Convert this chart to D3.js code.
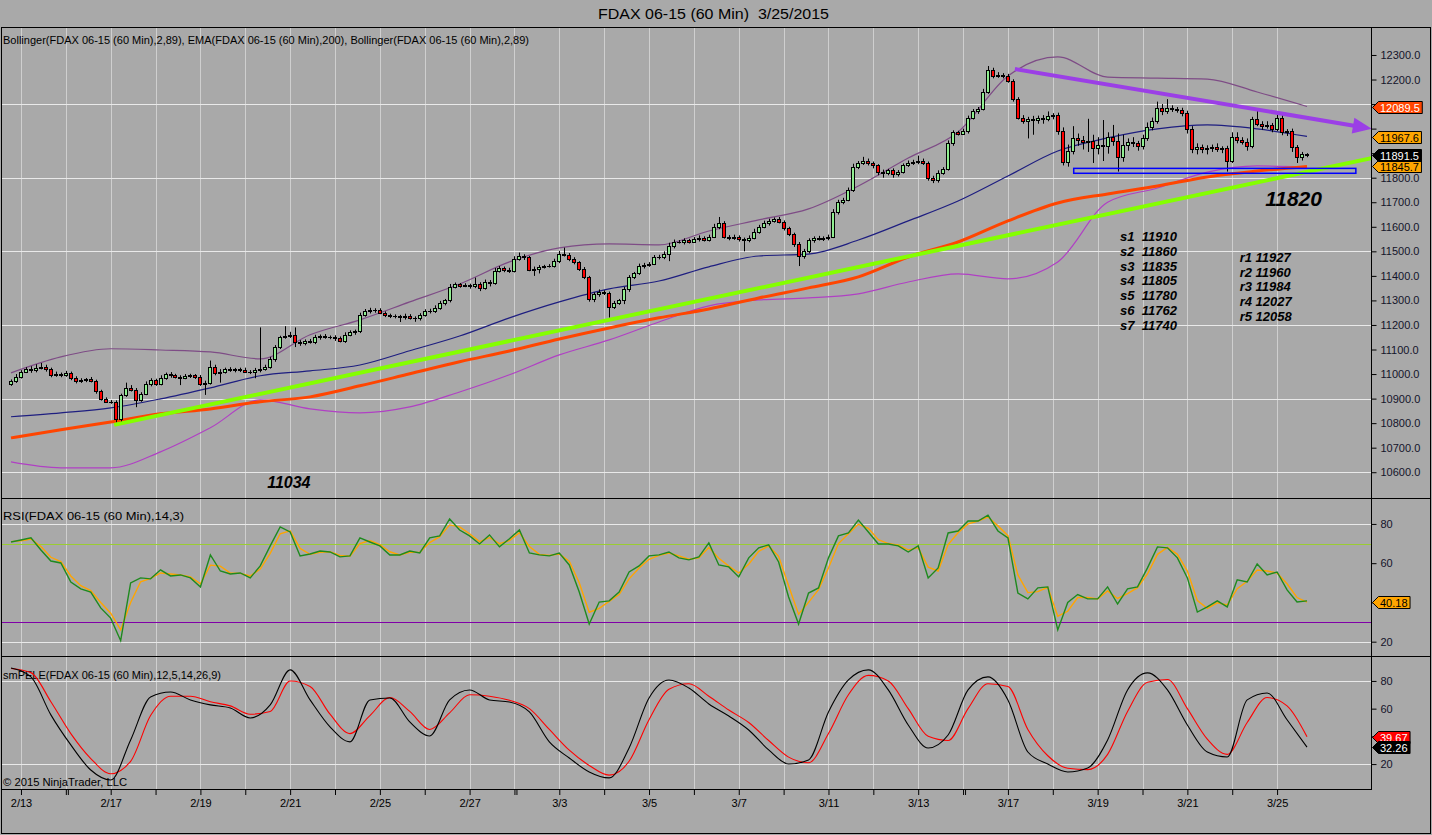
<!DOCTYPE html>
<html><head><meta charset="utf-8">
<script src="https://cdn.jsdelivr.net/npm/d3@7/dist/d3.min.js"></script>
<style>
html,body{margin:0;padding:0;background:#A9A9A9;overflow:hidden}
svg{display:block}
text{font-family:"Liberation Sans",Arial,Helvetica,sans-serif}
</style></head><body>
<svg id="chart" width="1432" height="835"></svg>
<script>
// ---------------- DATA ----------------
const title = "FDAX 06-15 (60 Min)  3/25/2015";
const legendMain = "Bollinger(FDAX 06-15 (60 Min),2,89), EMA(FDAX 06-15 (60 Min),200), Bollinger(FDAX 06-15 (60 Min),2,89)";
const legendRsi = "RSI(FDAX 06-15 (60 Min),14,3)";
const legendPel = "smPELE(FDAX 06-15 (60 Min),12,5,14,26,9)";
const copyright = "\u00A9 2015 NinjaTrader, LLC";

const firstOpen = 10960;
const closes = [
10970,10990,11010,11020,11015,11025,11030,11020,10995,11000,
10995,11005,10985,10970,10975,10978,10972,10930,10900,10888,
10885,10815,10915,10945,10935,10895,10920,10960,10975,10960,
10985,11000,10995,10990,10985,10992,10995,10990,10960,10965,
11030,11005,11010,11020,11015,11020,11018,11010,11008,11015,
11020,11030,11060,11110,11150,11155,11160,11130,11125,11135,
11130,11150,11155,11150,11152,11145,11135,11160,11170,11175,
11240,11255,11262,11260,11250,11240,11238,11235,11232,11238,
11230,11228,11240,11258,11255,11270,11290,11300,11355,11365,
11360,11362,11358,11368,11350,11375,11372,11420,11432,11425,
11420,11470,11480,11475,11425,11430,11438,11440,11442,11460,
11490,11485,11470,11455,11430,11395,11305,11325,11335,11330,
11275,11290,11300,11345,11395,11410,11440,11445,11450,11475,
11478,11490,11520,11540,11538,11545,11540,11550,11555,11548,
11560,11600,11615,11560,11555,11560,11550,11545,11555,11580,
11600,11615,11625,11632,11620,11595,11570,11530,11480,11500,
11545,11555,11550,11555,11560,11660,11700,11710,11750,11845,
11860,11870,11860,11850,11825,11820,11830,11815,11825,11850,
11860,11865,11870,11860,11800,11790,11820,11835,11940,11985,
11980,11990,12045,12070,12080,12150,12240,12215,12220,12215,
12195,12120,12045,12030,12040,12035,12045,12040,12050,12055,
11990,11865,11910,11960,11955,11945,11950,11920,11935,11928,
11965,11950,11885,11935,11945,11940,11930,11960,12005,12030,
12085,12070,12085,12080,12075,12065,12000,11915,11925,11915,
11920,11925,11915,11920,11870,11965,11955,11945,11930,12040,
12020,12010,12015,12000,12045,11985,11990,11925,11885,11895,
11891.5];
const upperWick = [
8,10,6,8,12,15,15,8,6,10, 6,8,5,6,8,6,10,5,6,5, 6,8,5,20,10,8,6,10,8,6,
10,6,8,6,5,8,6,5,6,8, 25,8,10,6,8,5,6,8,6,10, 170,8,10,8,6,40,12,30,8,6,
8,10,6,8,5,6,8,10,8,6, 10,10,8,6,8,5,6,5,6,8, 6,5,8,6,8,10,8,6,12,8,
6,8,6,25,6,10,8,12,8,6, 8,10,15,8,6,8,6,5,6,10, 12,25,8,6,5,6,5,8,10,6,
6,8,6,10,8,6,10,8,6,10, 8,10,15,8,6,8,6,8,10,6, 8,12,25,8,6,8,5,6,10,12,
8,10,8,6,8,6,5,6,8,10, 8,6,8,6,8,12,10,8,10,12, 8,15,8,6,5,8,6,8,6,8,
10,8,20,8,6,8,10,8,12,8, 6,10,8,10,8,12,15,8,10,6, 8,6,8,10,8,12,8,10,20,8,
10,15,25,50,20,15,90,25,30,100, 20,50,30,40,15,20,10,15,20,15, 25,15,35,10,8,10,8,10,15,10,
12,10,15,8,10,20,20,10,15,8, 35,10,15,8,12,15,8,10,8,10, 5];
const lowerWick = [
8,6,8,6,10,8,6,10,8,6, 8,6,10,8,6,8,6,10,8,6, 6,12,10,8,6,30,8,6,10,8,
6,8,10,8,30,6,8,10,8,45, 8,10,40,8,6,8,10,6,8,25, 8,6,8,10,8,6,8,20,10,8,
6,8,10,6,8,10,6,8,6,10, 8,6,8,10,6,8,10,8,20,10, 8,15,10,6,8,6,8,10,8,6,
8,6,10,8,12,6,15,8,6,10, 8,6,8,10,6,25,20,8,6,8, 8,6,10,8,10,8,10,12,10,8,
45,10,8,15,10,8,6,10,8,6, 8,10,30,8,6,10,8,6,10,8, 8,6,10,8,10,8,10,45,8,6,
8,6,10,8,6,10,8,12,40,10, 8,10,6,8,10,6,10,8,6,8, 10,8,10,12,15,20,10,15,10,8,
6,8,10,8,12,12,10,8,6,10, 8,6,10,8,10,6,8,10,8,10, 8,10,8,10,70,60,15,20,10,12,
15,15,20,15,25,30,40,60,25,60, 30,20,60,20,25,15,20,15,10,12, 10,15,10,12,10,15,20,15,20,15,
20,15,10,15,45,10,15,10,20,10, 10,15,10,15,10,12,15,20,25,15, 8];

// indicator readings every 10 bars
const bandStep = 10;
const bbUpper  = [11005,11070,11103,11098,11090,11062,11160,11221,11294,11367,11457,11514,11530,11526,11583,11628,11673,11766,11880,11986,12214,12292,12210,12206,12202,12149,12090];
const bbMiddle = [10826,10842,10862,10899,10944,10993,11013,11037,11095,11155,11229,11294,11347,11379,11437,11481,11489,11546,11624,11705,11807,11909,11962,11999,12015,11999,11968];
const bbLower  = [10642,10618,10618,10683,10781,10895,10858,10842,10866,10927,10997,11078,11139,11212,11278,11302,11310,11327,11375,11408,11388,11457,11700,11758,11823,11848,11844];
const ema200   = [10740,10773,10805,10838,10858,10887,10907,10952,11001,11050,11094,11143,11188,11229,11265,11310,11351,11396,11477,11538,11624,11697,11734,11766,11803,11827,11846];

// RSI readings every 2 bars
const rsiStep = 2;
const rsi = [70.8,71.8,72.9,66.7,61.1,60.1,50.4,46.9,45.3,37.2,32,20.5,49.9,52.5,52,56.6,53.5,54,52.5,47.9,
64.2,56,54.5,55,52.5,58.6,68.8,78.5,75.9,63.7,64.7,66.2,65.7,63.2,63.7,72.9,70.8,68.8,64.2,64.2,
66.2,65.2,72.9,73.9,82.5,76.9,73.9,69.8,74.4,68.3,72.4,76.9,65.2,64.2,63.7,65.2,59.1,45.3,29,40.2,
40.8,45.3,55.5,58.6,63.7,64.2,65.7,62.7,61.7,63.2,70.3,59.1,58.1,53,62.7,67.8,69.3,60.6,42.8,29,
44.8,47.4,62.7,73.9,75.4,82,75.9,69.8,69.8,68.8,65.7,68.8,52.5,57.6,75.4,76.4,81.5,81.5,84.5,76.4,
72.9,44.8,41.8,47.4,47.9,26,40,44,41.8,41.8,47.9,39.2,46.9,47.9,57.6,68.3,67.8,62.7,52.5,35.1,
37.7,40.8,37.7,51.5,50.4,59.6,54,55.5,46.4,40.2,40.8];
const rsiSignal = [71,71.4,72.3,68.5,63,60.8,53.5,48.5,46,40,34.5,26,40,50.5,52.2,55,54.5,54,53,49.5,
59,58.5,55,54.8,53.5,57,65,75,76.5,67.5,64.5,65.5,65.8,64,63.5,70,71.5,69.5,65.8,64.2,
65.5,65.5,70.5,73.5,79.5,78.5,75,71,73,70,71.5,75.5,68.5,64.5,64,64.7,61,50,35,37,
40.5,44,52,57.5,62,64,65.2,63.7,62,62.7,68,62.5,58.5,55,59.5,66,68.8,63.5,48.5,34,
40,46.5,57.5,70,75,79.8,77.8,72,70,69.2,66.8,67.8,58,56,69.5,75.5,80,81.5,83.5,79,
74,54,45,45.5,47.7,33,35.5,42.5,42.5,41.8,45.9,42,44.5,47.5,54.5,64.5,68,64.5,56,41,
37,39.8,38.7,47,50.8,56.5,56,55,49.5,42.5,40.18];
const rsiLevels = [70, 30];

// smPELE readings every 4 bars
const pelStep = 4;
const pelFast = [89.4,82.9,55.5,33.8,15.7,8.5,37.4,68.4,72,66.3,62.7,60.5,53.3,62.7,88,66.3,46.8,36,66.3,67.7,
50.4,40.3,66.3,73.5,66.3,64.8,57.6,36,24.4,14.3,10,31.6,67.7,80.7,74.9,63.4,54.7,44.6,30.2,20,
23,57.6,80.7,88,73.5,48.2,31.6,41,73.5,82.9,66.3,28.7,20,14.3,17.2,37.4,73.5,85.8,73.5,48.2,
28.7,25.1,66.3,71.3,52,32.26];
const pelSlow = [89,86,65,42,24,13,22,55,69,69,65,62,56,58,80,76,56,42,55,68,
58,45,57,70,69,66,60,45,30,19,12,22,52,74,78,69,59,50,37,25,
21,42,70,84,80,60,40,37,60,78,76,45,26,17,16,27,58,79,81,60,
38,27,50,68,62,39.67];

// time axis
const tickBars = [2,11,20,29,38,47,56,65,74,83,92,101,110,119,128,137,146,155,164,173,182,191,200,209,218,227,236,245,254];
const tickLabels = ["2/13","","2/17","","2/19","","2/21","","2/25","","2/27","","3/3","","3/5","","3/7","","3/11","","3/13","","3/17","","3/19","","3/21","","3/25"];
const sessionBreaks = [11,101,191];

// value axes
const priceTicks = [10600,10700,10800,10900,11000,11100,11200,11300,11400,11500,11600,11700,11800,11900,12000,12100,12200,12300];
const priceGrid = [10600,10900,11200,11500,11800,12100];
const oscTicks = [20,40,60,80];
const oscGrid = [20,80];

// last-value markers
const priceMarkers = [12089.5, 11967.6, 11845.7, 11891.5];
const rsiMarkers = [40.18];
const pelMarkers = [39.67, 32.26];

// drawings (bar index, price)
const trendUp = [[20.7,10793],[273,11880]];
const trendDown = [[201.4,12243],[273,11999]];
const supportZone = [[213.2,11818],[269.8,11838]];

// annotations
const noteLow = {text:"11034", at:[51.4,10536]};
const noteZone = {text:"11820", at:[251.6,11685]};
const supportNames = ["s1","s2","s3","s4","s5","s6","s7"];
const supportValues = [11910,11860,11835,11805,11780,11762,11740];
const resistNames = ["r1","r2","r3","r4","r5"];
const resistValues = [11927,11960,11984,12027,12058];
const supportAt = [222.5, 11542];
const resistAt = [246.5, 11457];

// ---------------- DRAW ----------------
const svg = d3.select("#chart");
const FONT = '"Liberation Sans",Arial,Helvetica,sans-serif';
const PL=2, PR=1371, PT=27, MB=498, RB=656, SB=789;
const n = closes.length;
const x  = d3.scaleLinear().domain([0,n-1]).range([11,1307]);
const yP = d3.scaleLinear().domain([10495,12414]).range([MB,PT]);
const yR = d3.scaleLinear().domain([12.7,92.7]).range([RB,MB+1]);
const yS = d3.scaleLinear().domain([2,98]).range([SB,RB]);

svg.append("rect").attr("width",1432).attr("height",835).attr("fill","#A9A9A9");

const defs = svg.append("defs");
function clip(id,y0,y1){defs.append("clipPath").attr("id",id).append("rect")
  .attr("x",PL).attr("y",y0).attr("width",PR-PL).attr("height",y1-y0);}
clip("cm",PT,MB); clip("cr",MB,RB); clip("cs",RB,SB);

// grid
const grid = svg.append("g");
grid.selectAll("line.v").data(tickBars).join("line").attr("class","v")
  .attr("x1",d=>Math.round(x(d))+0.5).attr("x2",d=>Math.round(x(d))+0.5)
  .attr("y1",PT).attr("y2",SB).attr("stroke","#CFCFCF");
function hgrid(vals,scale){
  grid.append("g").selectAll("line").data(vals).join("line")
   .attr("x1",PL).attr("x2",PR)
   .attr("y1",d=>Math.round(scale(d))+0.5).attr("y2",d=>Math.round(scale(d))+0.5)
   .attr("stroke","#E9E9E9");
}
hgrid(priceGrid,yP); hgrid(oscGrid,yR); hgrid(oscGrid,yS);

// legends
function label(txt,xx,yy,size,len){
  const t = svg.append("text").attr("x",xx).attr("y",yy).attr("font-size",size)
    .attr("fill","#000").style("white-space","pre").text(txt);
  if(len) t.attr("textLength",len).attr("lengthAdjust","spacingAndGlyphs");
  return t;
}
label(title,598,18.5,15,231);
label(legendMain,3,44,11,526);
label(legendRsi,3,520,11,181);
label(legendPel,3,679,11,218);
label(copyright,3,786,11,124);

// main panel lines
const main = svg.append("g").attr("clip-path","url(#cm)");
function series(arr,step,ys,curve){
  return d3.line().x((d,i)=>x(i*step)).y(d=>ys(d)).curve(curve||d3.curveLinear)(arr);
}
main.append("path").attr("d",series(bbUpper,bandStep,yP,d3.curveMonotoneX)).attr("fill","none").attr("stroke","#7E4C86").attr("stroke-width",1.2);
main.append("path").attr("d",series(bbMiddle,bandStep,yP,d3.curveMonotoneX)).attr("fill","none").attr("stroke","#1E1E80").attr("stroke-width",1.2);
main.append("path").attr("d",series(bbLower,bandStep,yP,d3.curveMonotoneX)).attr("fill","none").attr("stroke","#B040C4").attr("stroke-width",1.2);
main.append("path").attr("d",series(ema200,bandStep,yP,d3.curveMonotoneX)).attr("fill","none").attr("stroke","#FF4500").attr("stroke-width",3);

// candles
const bars = closes.map((c,i)=>{const o = i?closes[i-1]:firstOpen;
  return {i,o,c,h:Math.max(o,c)+upperWick[i],l:Math.min(o,c)-lowerWick[i]};});
const cg = main.append("g");
cg.selectAll("line").data(bars).join("line")
  .attr("x1",d=>Math.round(x(d.i))+0.5).attr("x2",d=>Math.round(x(d.i))+0.5)
  .attr("y1",d=>yP(d.h)).attr("y2",d=>yP(d.l)).attr("stroke","#000").attr("stroke-width",1);
cg.selectAll("rect").data(bars).join("rect")
  .attr("x",d=>Math.round(x(d.i))-1.5).attr("width",3)
  .attr("y",d=>Math.round(yP(Math.max(d.o,d.c)))+0.5)
  .attr("height",d=>Math.max(Math.round(yP(Math.min(d.o,d.c)))-Math.round(yP(Math.max(d.o,d.c))),0.01))
  .attr("fill",d=>d.c>=d.o?"#90EE90":"#FF0000").attr("stroke","#000").attr("stroke-width",1);

// drawings
main.append("line").attr("x1",x(trendUp[0][0])).attr("y1",yP(trendUp[0][1]))
  .attr("x2",x(trendUp[1][0])).attr("y2",yP(trendUp[1][1]))
  .attr("stroke","#84FF00").attr("stroke-width",4);
main.append("rect").attr("x",x(supportZone[0][0])).attr("y",yP(supportZone[1][1]))
  .attr("width",x(supportZone[1][0])-x(supportZone[0][0]))
  .attr("height",yP(supportZone[0][1])-yP(supportZone[1][1]))
  .attr("fill","none").attr("stroke","#0000FF").attr("stroke-width",1.5);
{
  const x1=x(trendDown[0][0]), y1=yP(trendDown[0][1]), x2=x(trendDown[1][0]), y2=yP(trendDown[1][1]);
  const a=Math.atan2(y2-y1,x2-x1), hl=19, hw=8;
  const bx=x2-hl*Math.cos(a), by=y2-hl*Math.sin(a);
  const px=-Math.sin(a), py=Math.cos(a);
  svg.append("line").attr("x1",x1).attr("y1",y1).attr("x2",bx+1).attr("y2",by)
    .attr("stroke","#9B3FE6").attr("stroke-width",4);
  svg.append("polygon").attr("points",[[x2,y2],[bx+px*hw,by+py*hw],[bx-px*hw,by-py*hw]].map(p=>p.join(",")).join(" "))
    .attr("fill","#9B3FE6");
}

// annotations
const ann = svg.append("g").attr("font-weight","bold").attr("font-style","italic").attr("fill","#000");
ann.append("text").attr("x",x(noteLow.at[0])).attr("y",yP(noteLow.at[1])).attr("font-size",16).text(noteLow.text);
ann.append("text").attr("x",x(noteZone.at[0])).attr("y",yP(noteZone.at[1])).attr("font-size",21).text(noteZone.text);
supportNames.forEach((s,i)=>{
  ann.append("text").attr("x",x(supportAt[0])).attr("y",yP(supportAt[1])+i*14.8).attr("font-size",13)
   .style("white-space","pre").text(s+"  "+supportValues[i]);
});
resistNames.forEach((s,i)=>{
  ann.append("text").attr("x",x(resistAt[0])).attr("y",yP(resistAt[1])+i*14.8).attr("font-size",13)
   .text(s+" "+resistValues[i]);
});

// RSI panel
const rg = svg.append("g").attr("clip-path","url(#cr)");
rg.append("line").attr("x1",PL).attr("x2",PR).attr("y1",Math.round(yR(rsiLevels[0]))+0.5).attr("y2",Math.round(yR(rsiLevels[0]))+0.5).attr("stroke","#9ACD32");
rg.append("line").attr("x1",PL).attr("x2",PR).attr("y1",Math.round(yR(rsiLevels[1]))+0.5).attr("y2",Math.round(yR(rsiLevels[1]))+0.5).attr("stroke","#8000A8");
rg.append("path").attr("d",series(rsiSignal,rsiStep,yR)).attr("fill","none").attr("stroke","#FFA500").attr("stroke-width",1.4);
rg.append("path").attr("d",series(rsi,rsiStep,yR)).attr("fill","none").attr("stroke","#1E8A1E").attr("stroke-width",1.4);

// smPELE panel
const sg = svg.append("g").attr("clip-path","url(#cs)");
sg.append("path").attr("d",series(pelSlow,pelStep,yS,d3.curveMonotoneX)).attr("fill","none").attr("stroke","#FF0000").attr("stroke-width",1.1);
sg.append("path").attr("d",series(pelFast,pelStep,yS,d3.curveMonotoneX)).attr("fill","none").attr("stroke","#000").attr("stroke-width",1.1);

// axes (tick labels hidden where a value marker covers them, as in the original)
function rightAxis(scale,vals,fmt,markers){
  const g = svg.append("g").attr("transform",`translate(${PR+0.5},0)`)
    .call(d3.axisRight(scale).tickValues(vals).tickFormat(fmt).tickSize(5).tickPadding(4));
  g.select(".domain").remove();
  g.attr("font-family",FONT).attr("font-size",11);
  g.selectAll("text").attr("fill","#14142a");
  g.selectAll("line").attr("stroke","#000");
  g.selectAll(".tick").filter(d=>markers.some(m=>Math.abs(scale(m)-scale(d))<11)).select("text").remove();
}
rightAxis(yP,priceTicks,d3.format(".1f"),priceMarkers);
rightAxis(yR,oscTicks,d3.format("d"),rsiMarkers);
rightAxis(yS,oscTicks,d3.format("d"),pelMarkers);

const bxAxis = svg.append("g").attr("transform",`translate(0,${SB})`)
  .call(d3.axisBottom(x).tickValues(tickBars).tickFormat((d,i)=>tickLabels[i]).tickSize(6).tickPadding(4));
bxAxis.select(".domain").remove();
bxAxis.attr("font-family",FONT).attr("font-size",11);
bxAxis.selectAll("text").attr("fill","#000");
bxAxis.selectAll("line").attr("stroke","#000");
svg.append("g").selectAll("line").data(sessionBreaks).join("line")
  .attr("x1",d=>x(d)+2.5).attr("x2",d=>x(d)+2.5).attr("y1",SB).attr("y2",SB+6).attr("stroke","#000");

// frame
const fr = svg.append("g").attr("stroke","#000").attr("fill","none");
fr.append("rect").attr("x",1.5).attr("y",PT+0.5).attr("width",1429).attr("height",806);
fr.append("line").attr("x1",1).attr("x2",1431).attr("y1",MB+0.5).attr("y2",MB+0.5);
fr.append("line").attr("x1",1).attr("x2",1431).attr("y1",RB+0.5).attr("y2",RB+0.5);
fr.append("line").attr("x1",1).attr("x2",PR+1).attr("y1",SB+0.5).attr("y2",SB+0.5);
fr.append("line").attr("x1",PR+0.5).attr("x2",PR+0.5).attr("y1",PT).attr("y2",SB+1);

// value markers
const mg = svg.append("g").attr("font-family",FONT).attr("font-size",11);
function marker(yy,val,fill,tcol,fmt){
  const g = mg.append("g");
  const poly = g.append("polygon");
  const t = g.append("text").attr("x",PR+9).attr("y",yy+4).attr("fill",tcol).text(fmt(val));
  const tw = t.node().getComputedTextLength();
  const x0=PR+1.5, xb=PR+7.5, xr=PR+9+tw+2.5, h=6;
  poly.attr("points",`${x0},${yy} ${xb},${yy-h} ${xr},${yy-h} ${xr},${yy+h} ${xb},${yy+h}`)
    .attr("fill",fill).attr("stroke","#000").attr("stroke-width",1);
}
const pStyles = [["#FF4500","#fff"],["#FFA500","#000"],["#FFA500","#000"],["#000","#fff"]];
priceMarkers.forEach((v,i)=>marker(Math.round(yP(v))+0.5,v,pStyles[i][0],pStyles[i][1],d3.format(".1f")));
rsiMarkers.forEach(v=>marker(Math.round(yR(v))+0.5,v,"#FFA500","#000",d3.format(".2f")));
const sStyles = [["#FF0000","#fff"],["#000","#fff"]];
pelMarkers.forEach((v,i)=>marker(Math.round(yS(v))+0.5,v,sStyles[i][0],sStyles[i][1],d3.format(".2f")));
</script>
</body></html>
